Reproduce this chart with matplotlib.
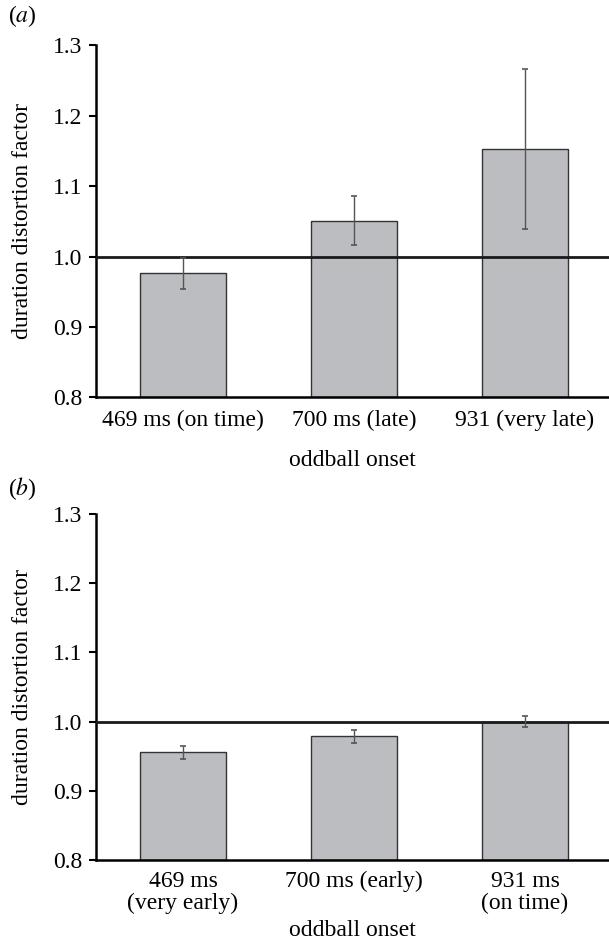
import matplotlib
matplotlib.use("Agg")
import matplotlib.pyplot as plt

plt.rcParams['font.family'] = ['Liberation Serif', 'DejaVu Serif']
plt.rcParams['mathtext.fontset'] = 'stix'

labels_a = ['469 ms (on time)', '700 ms (late)', '931 (very late)']
means_a = [0.976, 1.051, 1.153]
errs_a = [0.022, 0.035, 0.114]

labels_b = ['469 ms\n(very early)', '700 ms (early)', '931 ms\n(on time)']
means_b = [0.956, 0.979, 1.000]
errs_b = [0.0093, 0.0095, 0.0076]

yticks = [0.8, 0.9, 1.0, 1.1, 1.2, 1.3]

fig = plt.figure(figsize=(6.09, 9.48), dpi=100)
ax_a = fig.add_axes([0.1576, 0.5809, 0.8424, 0.3713])
ax_b = fig.add_axes([0.1576, 0.0928, 0.8424, 0.3650])


def panel(ax, labels, means, errs, tag, tag_y, tickpad, xlabpad):
    x = range(len(labels))
    ax.bar(x, [m - 0.8 for m in means], bottom=0.8, width=0.503,
           color='#bcbdc1', edgecolor='#333333', linewidth=1.0, zorder=2)
    ax.errorbar(x, means, yerr=errs, fmt='none', ecolor='#555555',
                elinewidth=1.0, capsize=2, capthick=1.2, zorder=4)
    ax.axhline(1.0, color='#1a1a1a', linewidth=2.0, zorder=3)
    ax.set_xlim(-0.509, 2.491)
    ax.set_ylim(0.8, 1.3)
    ax.set_yticks(yticks)
    ax.set_yticklabels([f'{t:.1f}' for t in yticks])
    ax.set_xticks(list(x))
    ax.set_xticklabels(labels, linespacing=1.05)
    ax.tick_params(axis='x', length=0, labelsize=17, pad=tickpad)
    ax.tick_params(axis='y', length=5, width=1.5, labelsize=17, pad=5, direction='out')
    ax.spines['top'].set_visible(False)
    ax.spines['right'].set_visible(False)
    ax.spines['left'].set_linewidth(1.8)
    ax.spines['bottom'].set_linewidth(1.8)
    ax.set_ylabel('duration distortion factor', fontsize=17, labelpad=14)
    ax.set_xlabel('oddball onset', fontsize=17, labelpad=xlabpad)
    fig.text(0.013, tag_y, '(' + r'$\it{' + tag + '}$' + ')', fontsize=17,
             va='center', ha='left')


panel(ax_a, labels_a, means_a, errs_a, 'a', 1 - 16 / 948, 9, 14)
panel(ax_b, labels_b, means_b, errs_b, 'b', 1 - 489 / 948, 8, 4)

fig.savefig('out.png', dpi=100)
